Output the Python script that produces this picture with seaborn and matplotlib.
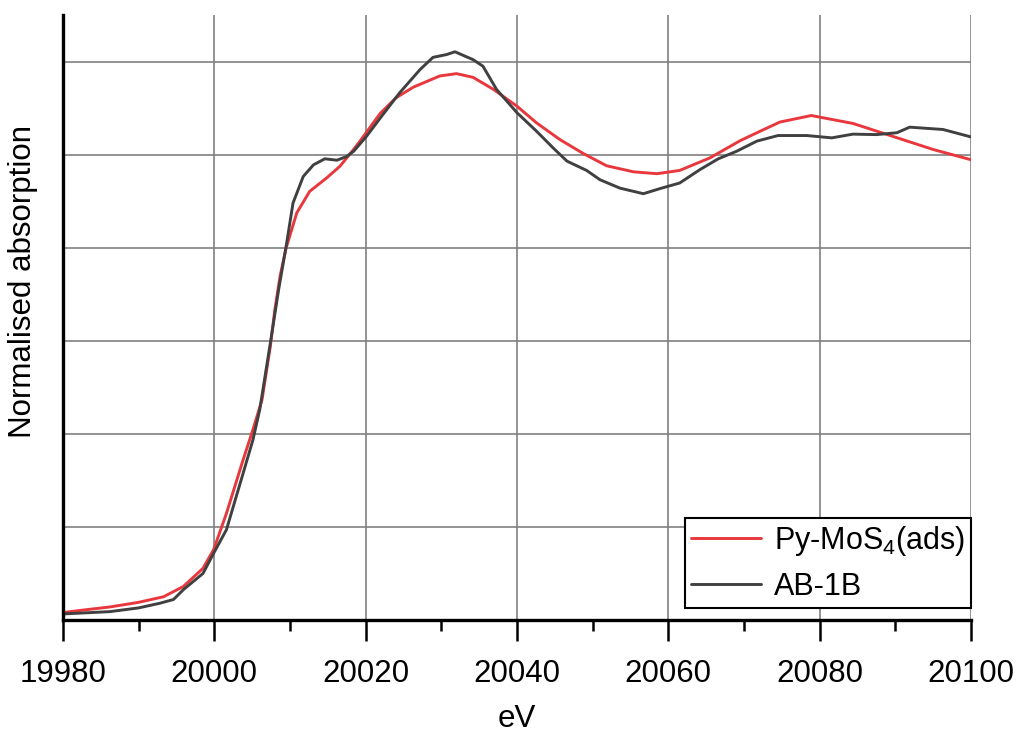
import pandas as pd
import seaborn as sns
import matplotlib.pyplot as plt
import numpy as np

# energy (eV) and normalised absorption
red_ev = [19980.0, 19983.0, 19986.2, 19990.0, 19993.3, 19995.9, 19998.5, 19999.9,
          20001.6, 20003.8, 20005.1, 20006.3, 20007.4, 20008.0, 20008.7, 20009.5,
          20010.9, 20012.6, 20014.85, 20016.6, 20018.4, 20019.25, 20021.9, 20024.0,
          20026.3, 20029.8, 20032.0, 20034.2, 20036.9, 20040.0, 20042.6, 20045.7,
          20048.8, 20051.85, 20055.4, 20058.5, 20061.5, 20065.5, 20069.5, 20072.1,
          20074.75, 20078.9, 20081.8, 20084.4, 20089.7, 20095.0, 20100.0]
red_abs = [0.016, 0.022, 0.028, 0.038, 0.050, 0.072, 0.111, 0.151,
           0.229, 0.344, 0.409, 0.473, 0.588, 0.667, 0.740, 0.800,
           0.875, 0.921, 0.950, 0.975, 1.011, 1.029, 1.088, 1.122,
           1.145, 1.169, 1.174, 1.166, 1.140, 1.104, 1.068, 1.032,
           1.002, 0.976, 0.963, 0.959, 0.966, 0.993, 1.030, 1.050,
           1.070, 1.084, 1.075, 1.067, 1.039, 1.011, 0.989]

gray_ev = [19980.0, 19986.2, 19990.0, 19992.8, 19994.6, 19995.9, 19998.5, 19999.9,
           20001.6, 20003.8, 20005.1, 20006.0, 20007.4, 20008.5, 20009.56, 20010.4,
           20011.75, 20013.1, 20014.6, 20016.2, 20017.5, 20018.4, 20020.1, 20021.9,
           20024.5, 20027.2, 20028.9, 20030.7, 20031.8, 20034.2, 20035.5, 20037.3,
           20040.0, 20042.6, 20044.8, 20046.6, 20049.2, 20050.97, 20053.6, 20056.7,
           20058.9, 20061.5, 20064.2, 20066.6, 20069.0, 20071.7, 20074.5, 20078.3,
           20081.6, 20084.4, 20087.5, 20090.2, 20091.9, 20096.3, 20100.0]
gray_abs = [0.013, 0.018, 0.026, 0.036, 0.044, 0.065, 0.100, 0.143,
            0.194, 0.315, 0.387, 0.452, 0.595, 0.710, 0.810, 0.896,
            0.953, 0.978, 0.991, 0.988, 0.996, 1.007, 1.039, 1.078,
            1.133, 1.183, 1.209, 1.215, 1.221, 1.204, 1.190, 1.140,
            1.090, 1.050, 1.014, 0.986, 0.966, 0.946, 0.928, 0.916,
            0.927, 0.939, 0.968, 0.991, 1.007, 1.029, 1.041, 1.041,
            1.036, 1.044, 1.043, 1.047, 1.059, 1.054, 1.038]

red_name = 'Py-MoS$\\mathregular{_4}$(ads)'
gray_name = 'AB-1B'

df = pd.concat([
    pd.DataFrame({'eV': red_ev, 'absorption': red_abs, 'sample': red_name}),
    pd.DataFrame({'eV': gray_ev, 'absorption': gray_abs, 'sample': gray_name}),
])

sns.set_style('white')
plt.rcParams['font.family'] = ['Liberation Sans', 'DejaVu Sans']
plt.rcParams['mathtext.fontset'] = 'custom'
plt.rcParams['mathtext.rm'] = 'Liberation Sans'
plt.rcParams['text.color'] = 'black'
plt.rcParams['axes.labelcolor'] = 'black'
plt.rcParams['xtick.color'] = 'black'

fig = plt.figure(figsize=(10.21, 7.34), dpi=100)
ax = fig.add_axes([63 / 1021, 1 - 620 / 734, 908 / 1021, 605 / 734])

sns.lineplot(data=df, x='eV', y='absorption', hue='sample', estimator=None, sort=True,
             palette={red_name: '#e8383d', gray_name: '#404040'},
             hue_order=[red_name, gray_name], linewidth=2.1, ax=ax)

ax.set_xlim(19980, 20100)
ax.set_ylim(0, 1.3)
ax.set_xticks(np.arange(19980, 20101, 20))
ax.set_xticks(np.arange(19990, 20100, 20), minor=True)
ax.set_yticks(np.arange(0.2, 1.3, 0.2))
ax.set_yticklabels([])
ax.grid(True, which='major', color='#808080', linewidth=1.2)
ax.set_axisbelow(True)

for s in ['top', 'right']:
    ax.spines[s].set_visible(False)
for s in ['left', 'bottom']:
    ax.spines[s].set_color('black')
    ax.spines[s].set_linewidth(2.4)

ax.tick_params(axis='x', which='major', length=15, width=1.8, color='black', bottom=True,
               direction='out', labelsize=22.5, labelcolor='black', pad=13)
ax.tick_params(axis='x', which='minor', length=8, width=1.8, color='black', direction='out',
               bottom=True)
ax.tick_params(axis='y', length=0)

ax.set_xlabel('eV', fontsize=22.5, labelpad=11, color='black')
ax.set_ylabel('Normalised absorption', fontsize=22.5, color='black')
ax.yaxis.set_label_coords(-0.027, 0.559)

leg = ax.legend(loc='lower right', bbox_to_anchor=(1.0, 0.02), borderaxespad=0,
                fontsize=22, frameon=True, fancybox=False, handlelength=2.3,
                handletextpad=0.4, borderpad=0.2, labelspacing=0.45, title=None)
leg.get_frame().set_edgecolor('black')
leg.get_frame().set_linewidth(1.5)
leg.get_frame().set_alpha(1)
for t in leg.get_texts():
    t.set_color('black')

fig.savefig('out.png', dpi=100)
